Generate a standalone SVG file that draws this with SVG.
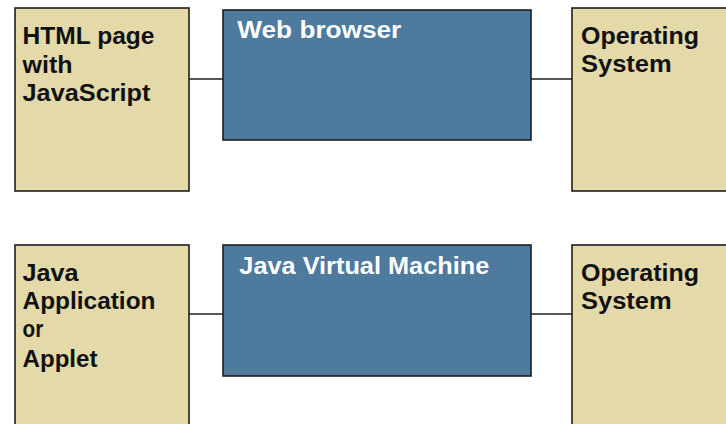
<svg xmlns="http://www.w3.org/2000/svg" width="726" height="424" viewBox="0 0 726 424">
<style>
.tan{fill:#E4D9A8;stroke:#1f1f1f;stroke-width:1.6}
.blue{fill:#4E7A9E;stroke:#1f1f1f;stroke-width:1.6}
.con{stroke:#1f1f1f;stroke-width:1.6;fill:none}
text{font-family:"Liberation Sans",Arial,sans-serif;font-weight:bold;font-size:23px}
.dk{fill:#111}
.lt{fill:#fff}
</style>
<rect width="726" height="424" fill="#fff"/>
<g id="connectors">
<line class="con" x1="189" y1="79" x2="223" y2="79"/>
<line class="con" x1="531" y1="79" x2="572" y2="79"/>
<line class="con" x1="189" y1="314" x2="223" y2="314"/>
<line class="con" x1="531" y1="314" x2="572" y2="314"/>
</g>
<g id="html">
<rect class="tan" x="15" y="8" width="174" height="183"/>
<text class="dk" x="22.5" y="44.3" textLength="132" lengthAdjust="spacingAndGlyphs">HTML page</text>
<text class="dk" x="22.5" y="72.7" textLength="50" lengthAdjust="spacingAndGlyphs">with</text>
<text class="dk" x="22.5" y="100.7" textLength="128" lengthAdjust="spacingAndGlyphs">JavaScript</text>
</g>
<g id="browser">
<rect class="blue" x="223" y="10" width="308" height="130"/>
<text class="lt" x="237.3" y="37.7" textLength="164" lengthAdjust="spacingAndGlyphs">Web browser</text>
</g>
<g id="os1">
<rect class="tan" x="572" y="8" width="170" height="183"/>
<text class="dk" x="581" y="44.3" textLength="118" lengthAdjust="spacingAndGlyphs">Operating</text>
<text class="dk" x="581" y="72.3" textLength="90.7" lengthAdjust="spacingAndGlyphs">System</text>
</g>
<g id="javaapp">
<rect class="tan" x="15" y="245" width="174" height="200"/>
<text class="dk" x="22.5" y="281" textLength="56" lengthAdjust="spacingAndGlyphs">Java</text>
<text class="dk" x="22.5" y="308.7" textLength="133" lengthAdjust="spacingAndGlyphs">Application</text>
<text class="dk" x="22.5" y="337.3" textLength="20.7" lengthAdjust="spacingAndGlyphs">or</text>
<text class="dk" x="22.5" y="367.3" textLength="75" lengthAdjust="spacingAndGlyphs">Applet</text>
</g>
<g id="jvm">
<rect class="blue" x="223" y="245" width="308" height="131"/>
<text class="lt" x="239.3" y="274" textLength="250" lengthAdjust="spacingAndGlyphs">Java Virtual Machine</text>
</g>
<g id="os2">
<rect class="tan" x="572" y="245" width="170" height="200"/>
<text class="dk" x="581" y="280.7" textLength="118" lengthAdjust="spacingAndGlyphs">Operating</text>
<text class="dk" x="581" y="309" textLength="90.7" lengthAdjust="spacingAndGlyphs">System</text>
</g>
</svg>
